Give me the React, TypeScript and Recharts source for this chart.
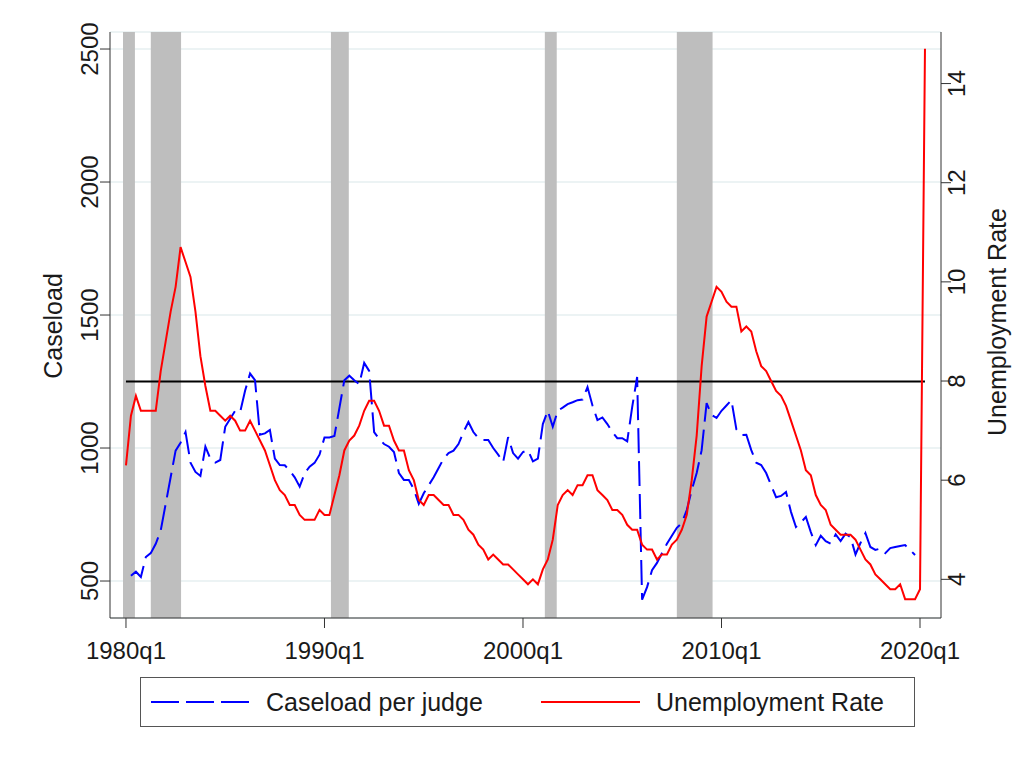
import {
  LineChart,
  Line,
  XAxis,
  YAxis,
  CartesianGrid,
  ReferenceArea,
  ReferenceLine,
} from "recharts";

const FONT = "'Liberation Sans', Arial, sans-serif";

// quarter index: 0 = 1980q1
const unemployment = [
  6.3, 7.3, 7.7, 7.4, 7.4, 7.4, 7.4, 8.2, 8.8, 9.4, 9.9, 10.7, 10.4, 10.1, 9.4, 8.5,
  7.9, 7.4, 7.4, 7.3, 7.2, 7.3, 7.2, 7.0, 7.0, 7.2, 7.0, 6.8, 6.6, 6.3, 6.0, 5.8,
  5.7, 5.5, 5.5, 5.3, 5.2, 5.2, 5.2, 5.4, 5.3, 5.3, 5.7, 6.1, 6.6, 6.8, 6.9, 7.1,
  7.4, 7.6, 7.6, 7.4, 7.1, 7.1, 6.8, 6.6, 6.6, 6.2, 6.0, 5.6, 5.5, 5.7, 5.7, 5.6,
  5.5, 5.5, 5.3, 5.3, 5.2, 5.0, 4.9, 4.7, 4.6, 4.4, 4.5, 4.4, 4.3, 4.3, 4.2, 4.1,
  4.0, 3.9, 4.0, 3.9, 4.2, 4.4, 4.8, 5.5, 5.7, 5.8, 5.7, 5.9, 5.9, 6.1, 6.1, 5.8,
  5.7, 5.6, 5.4, 5.4, 5.3, 5.1, 5.0, 5.0, 4.7, 4.6, 4.6, 4.4, 4.5, 4.5, 4.7, 4.8,
  5.0, 5.3, 6.0, 6.9, 8.3, 9.3, 9.6, 9.9, 9.8, 9.6, 9.5, 9.5, 9.0, 9.1, 9.0, 8.6,
  8.3, 8.2, 8.0, 7.8, 7.7, 7.5, 7.2, 6.9, 6.6, 6.2, 6.1, 5.7, 5.5, 5.4, 5.1, 5.0,
  4.9, 4.9, 4.9, 4.8, 4.6, 4.4, 4.3, 4.1, 4.0, 3.9, 3.8, 3.8, 3.9, 3.6, 3.6, 3.6,
  3.8, 14.7,
];

const caseload = [
  null, 520, 535, 515, 590, 605, 640, 690, 790, 890, 990, 1020, 1060, 945, 910, 895,
  1005, 960, 945, 955, 1080, 1110, 1140, 1135, 1215, 1280, 1255, 1050, 1055, 1068, 960, 936,
  935, 915, 890, 855, 905, 930, 944, 975, 1040, 1040, 1045, 1150, 1255, 1272, 1255, 1240,
  1320, 1290, 1060, 1035, 1015, 1005, 985, 906, 880, 880, 845, 790, 830, 860, 890, 925,
  960, 981, 990, 1015, 1060, 1098, 1060, 1037, 1030, 1030, 1000, 975, 947, 1041, 981, 960,
  985, 992, 950, 960, 1090, 1140, 1080, 1140, 1152, 1165, 1172, 1180, 1182, 1229, 1160, 1105,
  1115, 1090, 1060, 1037, 1037, 1025, 1154, 1267, 430, 477, 541, 568, 605, 640, 670, 700,
  718, 767, 842, 906, 992, 1169, 1124, 1113, 1140, 1160, 1180, 1070, 1049, 1050, 992, 945,
  936, 906, 860, 815, 820, 835, 760, 703, 720, 741, 684, 635, 670, 650, 640, 675,
  650, 678, 665, 600, 643, 680, 628, 617, 622, 605, 624, 628, 632, 635, 617, 598,
];

const xTicks = [0, 40, 80, 120, 160];
const caseloadTicks = [500, 1000, 1500, 2000, 2500];
const unempTicks = [4, 6, 8, 10, 12, 14];
const recessionStart = [-0.6, 5.0, 41.3, 84.4, 111.0];
const recessionEnd = [1.8, 11.1, 44.9, 86.8, 118.2];
const benchmark = 1250;
const benchmarkEnd = 161;

const data = unemployment.map((u, i) => ({
  q: i,
  unemp: u,
  caseload: caseload[i] ?? null,
}));

const quarterLabel = (q: number) => `${1980 + Math.floor(q / 4)}q${(q % 4) + 1}`;

const VertTick = ({ x, y, payload, shift }: any) => {
  const cx = x + shift;
  return (
    <text
      x={cx}
      y={y}
      transform={`rotate(-90 ${cx} ${y})`}
      textAnchor="middle"
      dy="0.35em"
      fontSize={24}
      fontFamily={FONT}
      fill="#1a1a1a"
    >
      {payload.value}
    </text>
  );
};

const AxisTitle = ({ cx, cy, text }: { cx: number; cy: number; text: string }) => (
  <text
    x={cx}
    y={cy}
    transform={`rotate(-90 ${cx} ${cy})`}
    textAnchor="middle"
    dy="0.35em"
    fontSize={25}
    fontFamily={FONT}
    fill="#1a1a1a"
  >
    {text}
  </text>
);

export default function App() {
  return (
    <div style={{ position: "absolute", left: 0, top: 0, width: 1034, height: 757, background: "#fff" }}>
      <LineChart
        width={1034}
        height={757}
        data={data}
        margin={{ top: 32, right: 0, left: 0, bottom: 79 }}
      >
        <CartesianGrid yAxisId="left" vertical={false} stroke="#e6eff1" strokeWidth={1.5} />
        {recessionStart.map((s, i) => (
          <ReferenceArea
            key={i}
            yAxisId="left"
            x1={s}
            x2={recessionEnd[i]}
            fill="#bebebe"
            fillOpacity={1}
            stroke="none"
          />
        ))}
        <XAxis
          type="number"
          dataKey="q"
          domain={[-3.22, 164.23]}
          allowDataOverflow
          ticks={xTicks}
          tickFormatter={quarterLabel}
          tickSize={10}
          tickMargin={14}
          height={60}
          stroke="#333"
          tick={{ fill: "#1a1a1a", fontSize: 24, fontFamily: FONT }}
        />
        <YAxis
          yAxisId="left"
          type="number"
          domain={[361, 2564]}
          allowDataOverflow
          ticks={caseloadTicks}
          tickSize={10}
          tickMargin={2}
          width={110}
          stroke="#333"
          tick={<VertTick shift={-8} />}
          label={{ content: () => <AxisTitle cx={53} cy={326} text="Caseload" /> }}
        />
        <YAxis
          yAxisId="right"
          orientation="right"
          type="number"
          domain={[3.22, 15.04]}
          allowDataOverflow
          ticks={unempTicks}
          tickSize={10}
          tickMargin={2}
          width={93}
          stroke="#333"
          tick={<VertTick shift={4} />}
          label={{ content: () => <AxisTitle cx={997} cy={322} text="Unemployment Rate" /> }}
        />
        <ReferenceLine
          yAxisId="left"
          segment={[
            { x: 0, y: benchmark },
            { x: benchmarkEnd, y: benchmark },
          ]}
          stroke="#000"
          strokeWidth={2}
        />
        <Line
          yAxisId="left"
          type="linear"
          dataKey="caseload"
          stroke="#0000ff"
          strokeWidth={2}
          strokeDasharray="25 8"
          dot={false}
          connectNulls={false}
          isAnimationActive={false}
        />
        <Line
          yAxisId="right"
          type="linear"
          dataKey="unemp"
          stroke="#ff0000"
          strokeWidth={2}
          dot={false}
          isAnimationActive={false}
        />
      </LineChart>
      <div
        style={{
          position: "absolute",
          left: 140,
          top: 677,
          width: 775,
          height: 50,
          border: "1.5px solid #555",
          boxSizing: "border-box",
        }}
      >
        <svg width={772} height={47} style={{ display: "block" }}>
          <line x1={10} y1={24} x2={108} y2={24} stroke="#0000ff" strokeWidth={2} strokeDasharray="28 7" />
          <text x={125} y={24} dy="0.35em" fontSize={25} fontFamily={FONT} fill="#1a1a1a">
            Caseload per judge
          </text>
          <line x1={400} y1={24} x2={499} y2={24} stroke="#ff0000" strokeWidth={2} />
          <text x={515} y={24} dy="0.35em" fontSize={25} fontFamily={FONT} fill="#1a1a1a">
            Unemployment Rate
          </text>
        </svg>
      </div>
    </div>
  );
}
